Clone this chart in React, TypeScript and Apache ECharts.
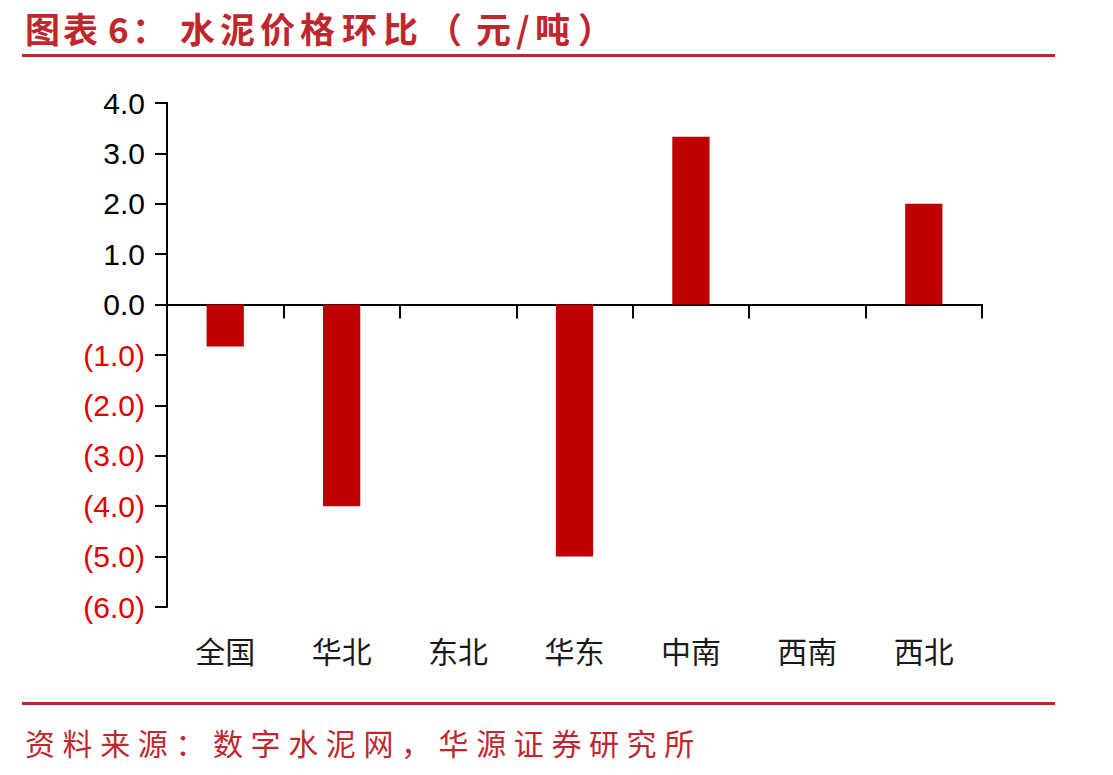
import React, { useEffect, useRef } from "react";
import * as echarts from "echarts";

const categories = ["全国", "华北", "东北", "华东", "中南", "西南", "西北"];
const values = [-0.83, -4.0, 0, -5.0, 3.33, 0, 2.0];
const yMin = -6;
const yMax = 4;
const yInterval = 1;
const titleText = "图表 6：水泥价格环比（元/吨）";
const sourceText = "资料来源：数字水泥网，华源证券研究所";

const RED = "#c0272d";
const CJK = '"Noto Sans CJK SC", "Noto Sans", sans-serif';

function layoutTitle(): any[] {
  const xs = [25, 63, 108, 132, 180, 220, 260, 300, 342, 383, 427, 476, 516, 535, 578];
  const chars = Array.from(titleText).filter((c) => c !== " ");
  return chars.map((c, i) => ({
    type: "text",
    x: xs[i],
    y: 27,
    style: {
      text: c,
      fill: RED,
      font: `bold 35px ${CJK}`,
      textAlign: "left",
      textVerticalAlign: "middle",
    },
  }));
}

function layoutSource(): any[] {
  return Array.from(sourceText).map((c, i) => ({
    type: "text",
    x: 25 + i * 37.6,
    y: 742,
    style: {
      text: c,
      fill: RED,
      font: `30px ${CJK}`,
      textAlign: "left",
      textVerticalAlign: "middle",
    },
  }));
}

export default function App() {
  const ref = useRef<HTMLDivElement>(null);
  useEffect(() => {
    if (!ref.current) return;
    const chart = echarts.init(ref.current, undefined, { renderer: "svg" });
    chart.setOption({
      animation: false,
      backgroundColor: "#ffffff",
      grid: { left: 167, right: 131, top: 103, bottom: 168, containLabel: false },
      xAxis: [
        {
          type: "category",
          data: categories,
          boundaryGap: true,
          axisLine: { show: true, onZero: true, lineStyle: { color: "#000", width: 2 } },
          axisTick: { show: true, length: 14, alignWithLabel: false, lineStyle: { color: "#000", width: 2 } },
          axisLabel: { show: false },
          splitLine: { show: false },
        },
        {
          type: "category",
          data: categories,
          position: "bottom",
          boundaryGap: true,
          axisLine: { show: false, onZero: false },
          axisTick: { show: false },
          axisLabel: {
            show: true,
            margin: 28,
            color: "#1a1a1a",
            fontSize: 30,
            fontFamily: CJK,
          },
          splitLine: { show: false },
        },
      ],
      yAxis: {
        type: "value",
        min: yMin,
        max: yMax,
        interval: yInterval,
        axisLine: { show: true, lineStyle: { color: "#000", width: 2 } },
        axisTick: { show: true, length: 12, lineStyle: { color: "#000", width: 2 } },
        splitLine: { show: false },
        axisLabel: {
          margin: 22,
          formatter: (v: number) =>
            v < 0 ? `{neg|(${Math.abs(v).toFixed(1)})}` : `{pos|${v.toFixed(1)}}`,
          rich: {
            neg: { color: "#e00000", fontSize: 30, fontFamily: '"Liberation Sans", Arial, sans-serif' },
            pos: { color: "#000000", fontSize: 30, fontFamily: '"Liberation Sans", Arial, sans-serif' },
          },
        },
      },
      series: [
        {
          type: "bar",
          xAxisIndex: 0,
          data: values,
          barWidth: "32%",
          itemStyle: { color: "#c00000" },
        },
      ],
      graphic: [
        ...layoutTitle(),
        {
          type: "line",
          shape: { x1: 22, y1: 55.5, x2: 1055, y2: 55.5 },
          style: { stroke: RED, lineWidth: 3 },
        },
        {
          type: "line",
          shape: { x1: 22, y1: 703.5, x2: 1055, y2: 703.5 },
          style: { stroke: RED, lineWidth: 3 },
        },
        ...layoutSource(),
      ],
    });
    return () => chart.dispose();
  }, []);
  return <div ref={ref} style={{ width: 1113, height: 775, position: "absolute", left: 0, top: 0 }} />;
}
